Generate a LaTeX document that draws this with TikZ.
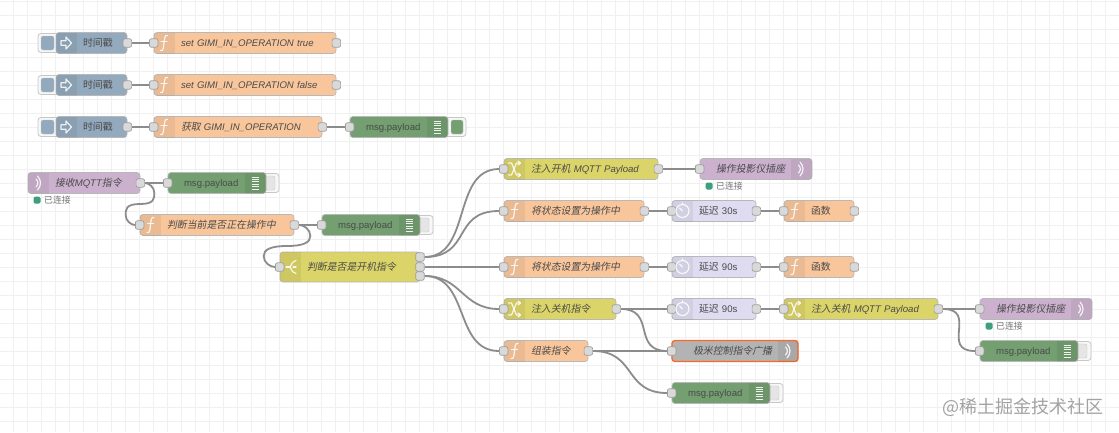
\documentclass[tikz,border=0pt]{standalone}
\usepackage{fontspec}
\usetikzlibrary{calc}
\setmainfont{Liberation Sans}
\newfontfamily\cjkup[Scale=1.03]{Noto Sans CJK SC}
\newfontfamily\cjkit[FakeSlant=0.2,Scale=1.03]{Noto Sans CJK SC}
\newcommand\Kup[1]{{\cjkup #1}}
\newcommand\Kit[1]{{\cjkit #1}}
\newcommand\Ita[1]{{\itshape #1}}
\definecolor{cinj}{HTML}{93A9BD}
\definecolor{cfun}{HTML}{F9C69C}
\definecolor{cdbg}{HTML}{749F71}
\definecolor{csw}{HTML}{DBD469}
\definecolor{cdel}{HTML}{DFDCF1}
\definecolor{cmq}{HTML}{CBB1CE}
\definecolor{cgry}{HTML}{B3B3B3}
\definecolor{wirec}{HTML}{8C8C8C}
\definecolor{txt}{HTML}{4A4A4A}
\definecolor{cstat}{HTML}{3F9E80}
\pgfdeclarelayer{under}
\pgfsetlayers{under,main}
\tikzset{
  x=1pt,y=-1pt,
  bodybox/.style={draw=black!28,line width=.7pt,rounded corners=3pt,minimum height=21pt,inner sep=0pt,
    text=txt,font=\fontsize{9.6}{11}\selectfont,align=left,text height=9pt,text depth=1.5pt},
  portbox/.style={draw=black!38,fill=black!15,line width=.7pt,rounded corners=2pt,minimum size=8.5pt,inner sep=0pt},
  btnout/.style={draw=black!22,fill=black!3,line width=.8pt,rounded corners=3pt,inner sep=0pt},
  wire/.style={draw=wirec,line width=1.8pt},
  ico/.style={draw=white,line width=1.2pt,opacity=.85,line cap=round,line join=round},
  statdot/.style={fill=cstat,rounded corners=1.5pt,minimum size=7pt,inner sep=0pt},
  stattxt/.style={text=black!55,inner sep=0pt,anchor=west,font=\fontsize{8.6}{10}\cjkup},
}
% name x1 x2 y colour pad label
\newcommand\rnbase[7]{%
  \pgfmathsetlengthmacro\nw{#3-#2}%
  \node[bodybox,fill=#5,minimum width=\nw,text width=\nw] (#1) at ({(#2+#3)/2},#4) {\hspace*{#6pt}\mbox{#7}};}
\newcommand\secbox[4]{%
  \begin{scope}\clip[rounded corners=3pt] #3 rectangle #4;
  \fill[black,opacity=.06] #1 rectangle #2;\end{scope}}
\newcommand\rnL[6]{\rnbase{#1}{#2}{#3}{#4}{#5}{27}{#6}%
  \secbox{(#2,#4-10.5)}{(#2+21,#4+10.5)}{(#2,#4-10.5)}{(#3,#4+10.5)}}
\newcommand\rnR[6]{\rnbase{#1}{#2}{#3}{#4}{#5}{16}{#6}%
  \secbox{(#3-21,#4-10.5)}{(#3,#4+10.5)}{(#2,#4-10.5)}{(#3,#4+10.5)}}
\newcommand\pin[1]{\node[portbox] (#1-in) at (#1.west) {};}
\newcommand\pout[1]{\node[portbox] (#1-out) at (#1.east) {};}
% icons
\newcommand\icoF[2]{\begin{scope}[shift={(#1,#2)}]\draw[ico] (3.5,-7.5) .. controls (0.5,-8.5) and (0.6,-4) .. (0,0) .. controls (-0.6,4) and (-0.5,8.5) .. (-3.5,7.5);\draw[ico] (-3,-1.5) -- (3,-1.5);\end{scope}}
\newcommand\icoA[2]{\begin{scope}[shift={(#1,#2)}]\draw[ico] (-5,-2.3) -- (0,-2.3) -- (0,-6) -- (5.5,0) -- (0,6) -- (0,2.3) -- (-5,2.3) -- cycle;\end{scope}}
\newcommand\icoW[2]{\begin{scope}[shift={(#1,#2)}]\draw[ico] (-1,-7) .. controls (3,-3) and (3,3) .. (-1,7);\draw[ico] (-2.5,-4) .. controls (0,-1.5) and (0,1.5) .. (-2.5,4);\end{scope}}
\newcommand\icoS[2]{\begin{scope}[shift={(#1,#2)}]\draw[ico] (-5,0) -- (-1,0);\draw[ico] (5,-6.5) -- (1.5,-4.5) -- (-1,0) -- (1.5,4.5) -- (5,6.5);\draw[ico] (2,0) -- (5,0);\end{scope}}
\newcommand\icoC[2]{\begin{scope}[shift={(#1,#2)}]\draw[ico] (-6,-6) -- (-3,-6) -- (2,6) -- (5,6);\draw[ico] (-6,6) -- (-3,6) -- (2,-6) -- (5,-6);\draw[ico] (3.5,-8) -- (6,-6) -- (3.5,-4);\draw[ico] (3.5,4) -- (6,6) -- (3.5,8);\end{scope}}
\newcommand\icoD[2]{\begin{scope}[shift={(#1,#2)}]\draw[ico] (0,0) circle[radius=6.5pt];\draw[ico] (0,0) -- (-3,-3);\draw[ico] (0,-8.3) -- (0,-6.5);\end{scope}}
\newcommand\icoL[2]{\begin{scope}[shift={(#1,#2)}]\foreach \yy in {-6,-3.6,-1.2,1.2,3.6,6} {\draw[draw=white,line width=.8pt,opacity=.88] (-3.8,\yy) -- (3.8,\yy);}\end{scope}}
% button: name x1 x2 y  in-x1 in-x2 colour
\newcommand\btn[7]{\pgfmathsetlengthmacro\nw{#3-#2}%
  \node[btnout,minimum width=\nw,minimum height=19pt] (#1) at ({(#2+#3)/2},#4) {};
  \pgfmathsetlengthmacro\nw{#6-#5}%
  \node[draw=black!22,fill=#7,rounded corners=2pt,minimum width=\nw,minimum height=14pt,inner sep=0pt] (#1-face) at ({(#5+#6)/2},#4) {};}
\newcommand\wcurve[3]{\draw[wire] (#1) .. controls +(#3,0) and +(-#3,0) .. (#2);}
\newcommand\wline[2]{\draw[wire] (#1) -- (#2);}
% backward wire: from, to, bulge, drop, name of midpoint
\newcommand\wback[5]{\coordinate (#5) at ($(#1)!.5!(#2)$);
  \draw[wire] (#1) .. controls +(.6*#3,0) and +(0,-.6*#4) .. ($(#1)+(#3,#4)$)
    .. controls +(0,.6*#4) and +(#3,0) .. (#5)
    .. controls +(-#3,0) and +(0,-.6*#4) .. ($(#2)+(-#3,-#4)$)
    .. controls +(0,.6*#4) and +(-.6*#3,0) .. (#2);}
\begin{document}
\begin{tikzpicture}
\useasboundingbox (0,0) rectangle (1119,432);
\begin{pgfonlayer}{under}
\fill[white] (0,0) rectangle (1119,432);
\foreach \i in {1,...,79} {\draw[black!6,line width=.7pt] (14*\i-.2,0) -- (14*\i-.2,432);}
\foreach \i in {0,...,30} {\draw[black!6,line width=.7pt] (0,14*\i+1.3) -- (1119,14*\i+1.3);}
\end{pgfonlayer}

% top rows
\btn{b1}{38}{60}{43}{41}{54}{cinj}
\rnL{t1}{56}{127}{43}{cinj}{\Kup{时间戳}}\pout{t1}\icoA{66}{43}
\rnL{f1}{154}{336}{43}{cfun}{\Ita{set GIMI\_IN\_OPERATION true}}\pin{f1}\pout{f1}\icoF{164}{43}
\btn{b2}{38}{60}{85}{41}{54}{cinj}
\rnL{t2}{56}{127}{85}{cinj}{\Kup{时间戳}}\pout{t2}\icoA{66}{85}
\rnL{f2}{154}{336}{85}{cfun}{\Ita{set GIMI\_IN\_OPERATION false}}\pin{f2}\pout{f2}\icoF{164}{85}
\btn{b3}{38}{60}{127}{41}{54}{cinj}
\rnL{t3}{56}{127}{127}{cinj}{\Kup{时间戳}}\pout{t3}\icoA{66}{127}
\rnL{f3}{154}{322}{127}{cfun}{\Kit{获取} \Ita{GIMI\_IN\_OPERATION}}\pin{f3}\pout{f3}\icoF{164}{127}
\btn{b4}{440}{466}{127}{451}{463}{cdbg}
\rnR{d3}{350}{448}{127}{cdbg}{msg.payload}\pin{d3}\icoL{437.5}{127}

% left flow
\rnL{mq}{28}{140}{183}{cmq}{\Kit{接收}\Ita{MQTT}\Kit{指令}}\pout{mq}\icoW{38.5}{183}
\node[statdot] (s1) at (37,200) {};
\node[stattxt] (s1t) at (44,200) {已连接};
\btn{b5}{258}{279}{183}{262}{275}{black!10}
\rnR{d1}{168}{266}{183}{cdbg}{msg.payload}\pin{d1}\icoL{255.5}{183}
\rnL{fa}{140}{294}{225}{cfun}{\Kit{判断当前是否正在操作中}}\pin{fa}\pout{fa}\icoF{150.5}{225}
\btn{b6}{412}{433}{225}{416}{429}{black!10}
\rnR{d2}{322}{420}{225}{cdbg}{msg.payload}\pin{d2}\icoL{409.5}{225}
\node[bodybox,fill=csw,minimum width=140pt,minimum height=30pt,text width=140pt] (sw) at (350,267) {\hspace*{27pt}\mbox{\Kit{判断是否是开机指令}}};
\secbox{(280,252)}{(301,282)}{(280,252)}{(420,282)}
\node[portbox] (sw-in) at (sw.west) {};
\node[portbox] (sw-o1) at (420,257) {};
\node[portbox] (sw-o2) at (420,267) {};
\node[portbox] (sw-o3) at (420,276) {};
\icoS{291}{267}

% branch 1
\rnL{c1}{504}{658}{169}{csw}{\Kit{注入开机} \Ita{MQTT Payload}}\pin{c1}\pout{c1}\icoC{514.5}{169}
\rnR{m1}{700}{812}{169}{cmq}{\Kit{操作投影仪插座}}\pin{m1}\icoW{801}{169}
\node[statdot] (s2) at (709,186) {};
\node[stattxt] (s2t) at (716,186) {已连接};
% branch 2
\rnL{g1}{504}{644}{211}{cfun}{\Kit{将状态设置为操作中}}\pin{g1}\pout{g1}\icoF{514.5}{211}
\rnL{e1}{672}{756}{211}{cdel}{\Kup{延迟} 30s}\pin{e1}\pout{e1}\icoD{682.5}{211}
\rnL{h1}{784}{854}{211}{cfun}{\Kup{函数}}\pin{h1}\pout{h1}\icoF{794.5}{211}
% branch 3
\rnL{g2}{504}{644}{267}{cfun}{\Kit{将状态设置为操作中}}\pin{g2}\pout{g2}\icoF{514.5}{267}
\rnL{e2}{672}{756}{267}{cdel}{\Kup{延迟} 90s}\pin{e2}\pout{e2}\icoD{682.5}{267}
\rnL{h2}{784}{854}{267}{cfun}{\Kup{函数}}\pin{h2}\pout{h2}\icoF{794.5}{267}
% branch 4
\rnL{c2}{504}{616}{309}{csw}{\Kit{注入关机指令}}\pin{c2}\pout{c2}\icoC{514.5}{309}
\rnL{e3}{672}{756}{309}{cdel}{\Kup{延迟} 90s}\pin{e3}\pout{e3}\icoD{682.5}{309}
\rnL{c3}{784}{938}{309}{csw}{\Kit{注入关机} \Ita{MQTT Payload}}\pin{c3}\pout{c3}\icoC{794.5}{309}
\rnR{m2}{980}{1092}{309}{cmq}{\Kit{操作投影仪插座}}\pin{m2}\icoW{1081}{309}
\node[statdot] (s3) at (989,326) {};
\node[stattxt] (s3t) at (996,326) {已连接};
\btn{b7}{1070}{1091}{351}{1074}{1087}{black!10}
\rnR{d4}{980}{1078}{351}{cdbg}{msg.payload}\pin{d4}\icoL{1067.5}{351}
% branch 5
\rnL{g3}{504}{588}{351}{cfun}{\Kit{组装指令}}\pin{g3}\pout{g3}\icoF{514.5}{351}
\rnbase{br}{672}{798}{351}{cgry}{21}{\Kit{极米控制指令广播}}
\draw[draw=orange!60!red!85!white,line width=1.3pt,rounded corners=3pt] (672,340.5) rectangle (798,361.5);
\secbox{(778,340.5)}{(798,361.5)}{(672,340.5)}{(798,361.5)}
\pin{br}\icoW{788}{351}
\btn{b8}{762}{783}{393}{766}{779}{black!10}
\rnR{d5}{672}{770}{393}{cdbg}{msg.payload}\pin{d5}\icoL{759.5}{393}

\node[inner sep=0pt,text=black!36,font=\fontsize{17.5}{20}\cjkup] (wm) at (1023,407) {@稀土掘金技术社区};

\begin{pgfonlayer}{under}
\wline{t1-out}{f1-in}
\wline{t2-out}{f2-in}
\wline{t3-out}{f3-in}
\wline{f3-out}{d3-in}
\wline{mq-out}{d1-in}
\wback{mq-out}{fa-in}{14}{10}{mqmid}
\wline{fa-out}{d2-in}
\wback{fa-out}{sw-in}{16}{11}{famid}
\wcurve{sw-o1}{c1-in}{52}
\wcurve{sw-o1}{g1-in}{52}
\wline{sw-o2}{g2-in}
\wcurve{sw-o3}{c2-in}{42}
\wcurve{sw-o3}{g3-in}{50}
\wline{c1-out}{m1-in}
\wline{g1-out}{e1-in}
\wline{e1-out}{h1-in}
\wline{g2-out}{e2-in}
\wline{e2-out}{h2-in}
\wline{c2-out}{e3-in}
\wcurve{c2-out}{br-in}{40}
\wline{e3-out}{c3-in}
\wline{c3-out}{m2-in}
\wcurve{c3-out}{d4-in}{40}
\wline{g3-out}{br-in}
\wcurve{g3-out}{d5-in}{48}
\end{pgfonlayer}
\end{tikzpicture}
\end{document}
